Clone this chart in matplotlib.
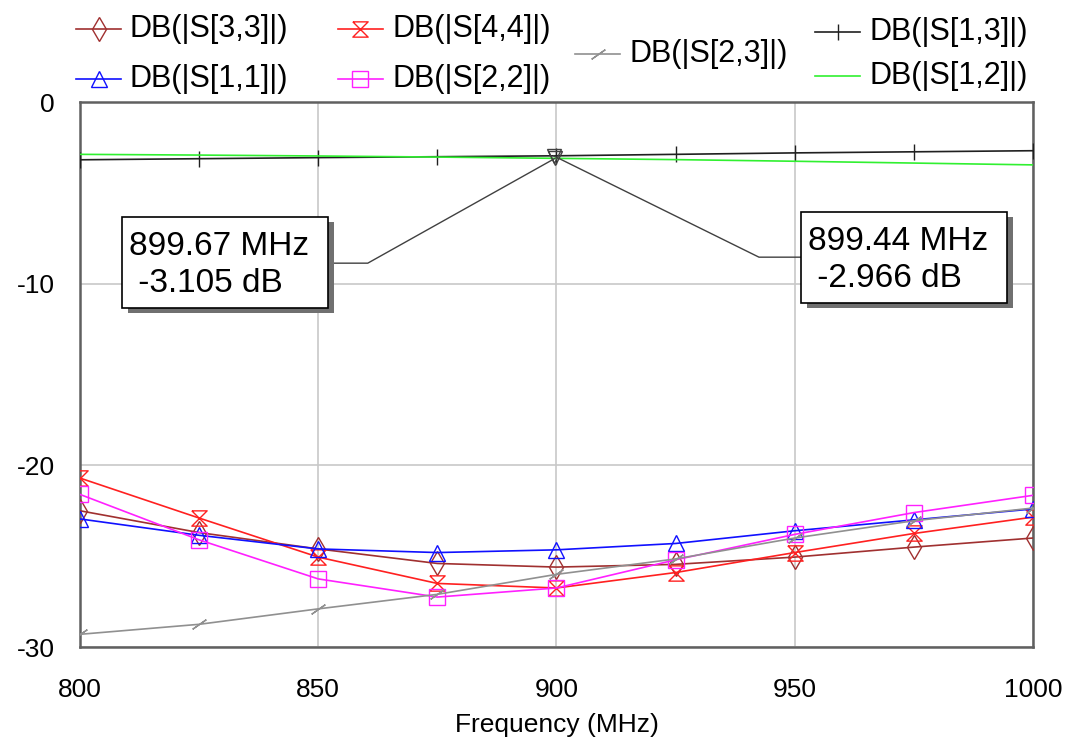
import numpy as np
import matplotlib
matplotlib.use("Agg")
import matplotlib.pyplot as plt
from matplotlib.lines import Line2D
from matplotlib.patches import Rectangle

plt.rcParams['font.family'] = ['Liberation Sans', 'DejaVu Sans']
plt.rcParams['axes.unicode_minus'] = False

# frequency sweep (MHz) and traces (dB)
freq = [800, 825, 850, 875, 900, 925, 950, 975, 1000]
s33 = [-22.5, -23.7, -24.6, -25.4, -25.6, -25.45, -25.05, -24.5, -24.0]
s44 = [-20.7, -22.9, -25.05, -26.5, -26.75, -25.9, -24.8, -23.75, -22.85]
s11 = [-22.95, -23.85, -24.6, -24.8, -24.65, -24.3, -23.6, -23.0, -22.4]
s22 = [-21.6, -24.1, -26.25, -27.25, -26.75, -25.2, -23.8, -22.6, -21.65]
s23 = [-29.3, -28.75, -27.9, -27.1, -26.0, -25.15, -24.0, -23.05, -22.35]
s13 = [-3.18, -3.12, -3.06, -3.01, -2.96, -2.88, -2.8, -2.74, -2.68]
s12 = [-2.88, -2.92, -2.97, -3.03, -3.1, -3.17, -3.26, -3.36, -3.46]

# marker readouts
mk_freq = [899.67, 899.44]
mk_db = [-3.105, -2.966]
mk_text = ["899.67 MHz\n -3.105 dB", "899.44 MHz\n -2.966 dB"]

hourglass = [(-1, 1), (1, 1), (-1, -1), (1, -1), (-1, 1)]
slash = (2, 2, -55)

traces = [
    ("DB(|S[3,3]|)", s33, '#a03030', 'd', 12),
    ("DB(|S[4,4]|)", s44, '#ff2020', hourglass, 11),
    ("DB(|S[1,1]|)", s11, '#1010ff', '^', 12),
    ("DB(|S[2,2]|)", s22, '#ff20ff', 's', 12),
    ("DB(|S[2,3]|)", s23, '#909090', slash, 12),
    ("DB(|S[1,3]|)", s13, '#202020', '|', 12),
    ("DB(|S[1,2]|)", s12, '#30f030', None, 0),
]

fig = plt.figure(figsize=(10.65, 7.42), dpi=100)
ax = fig.add_axes([0.0751, 0.128, 0.8948, 0.7345])

for name, vals, col, mk, ms in traces:
    ax.plot(freq, vals, color=col, lw=1.2, marker=mk, ms=ms, mfc='none',
            mec=col, mew=1.0, zorder=3)

ax.set_xlim(800, 1000)
ax.set_ylim(-30, 0)
ax.set_xticks([800, 850, 900, 950, 1000])
ax.set_yticks([0, -10, -20, -30])
ax.grid(True, color='#c8c8c8', lw=1.2)
ax.set_axisbelow(True)
ax.tick_params(length=0, labelsize=19)
ax.tick_params(axis='x', pad=22)
ax.tick_params(axis='y', pad=18)
for sp in ax.spines.values():
    sp.set_color('#606060')
    sp.set_linewidth(1.8)
ax.set_xlabel("Frequency (MHz)", fontsize=19, labelpad=8)

# marker triangles + leader lines + readout boxes
ax.plot(mk_freq, mk_db, ls='none', marker='v', ms=10, mfc='none', mec='#404040',
        mew=1.0, zorder=5)

# (box x0, y0, x1, y1 in axes fraction), leader: box edge x, bend x, y (data)
boxes = [((0.0441, 0.622, 0.2602, 0.789), (852.0, 860.4, -8.87)),
         ((0.7566, 0.631, 0.9727, 0.798), (951.3, 942.5, -8.54))]
for i, ((x0, y0, x1, y1), (ex, bx, ly)) in enumerate(boxes):
    ax.plot([ex, bx, mk_freq[i]], [ly, ly, mk_db[i]], color='#404040', lw=1.0,
            zorder=4)
    off = 0.006
    ax.add_patch(Rectangle((x0 + off, y0 - off * 1.6), x1 - x0, y1 - y0,
                           transform=ax.transAxes, fc='#707070', ec='none',
                           zorder=6))
    ax.add_patch(Rectangle((x0, y0), x1 - x0, y1 - y0, transform=ax.transAxes,
                           fc='white', ec='black', lw=1.2, zorder=7))
    ax.text(x0 + 0.007, (y0 + y1) / 2 - 0.004, mk_text[i], transform=ax.transAxes,
            ha='left', va='center', fontsize=24, linespacing=1.25, zorder=8)

# legend drawn above the plot
def px(x, y):
    return x / 1065, 1 - y / 742

leg_pos = [(76, 29), (338, 29), (76, 79), (338, 79), (575, 54), (815, 32), (815, 76)]
for (name, vals, col, mk, ms), (lx, ly) in zip(traces, leg_pos):
    (xa, ya), (xb, _) = px(lx, ly), px(lx + 45, ly)
    fig.add_artist(Line2D([xa, xb], [ya, ya], color=col, lw=1.2))
    if mk is not None:
        fig.add_artist(Line2D([(xa + xb) / 2], [ya], color=col, marker=mk, ms=ms,
                              mfc='none', mec=col, mew=1.0))
    tx, ty = px(lx + 54, ly)
    fig.text(tx, ty, name, ha='left', va='center', fontsize=22)

fig.savefig("out.png", dpi=100)
